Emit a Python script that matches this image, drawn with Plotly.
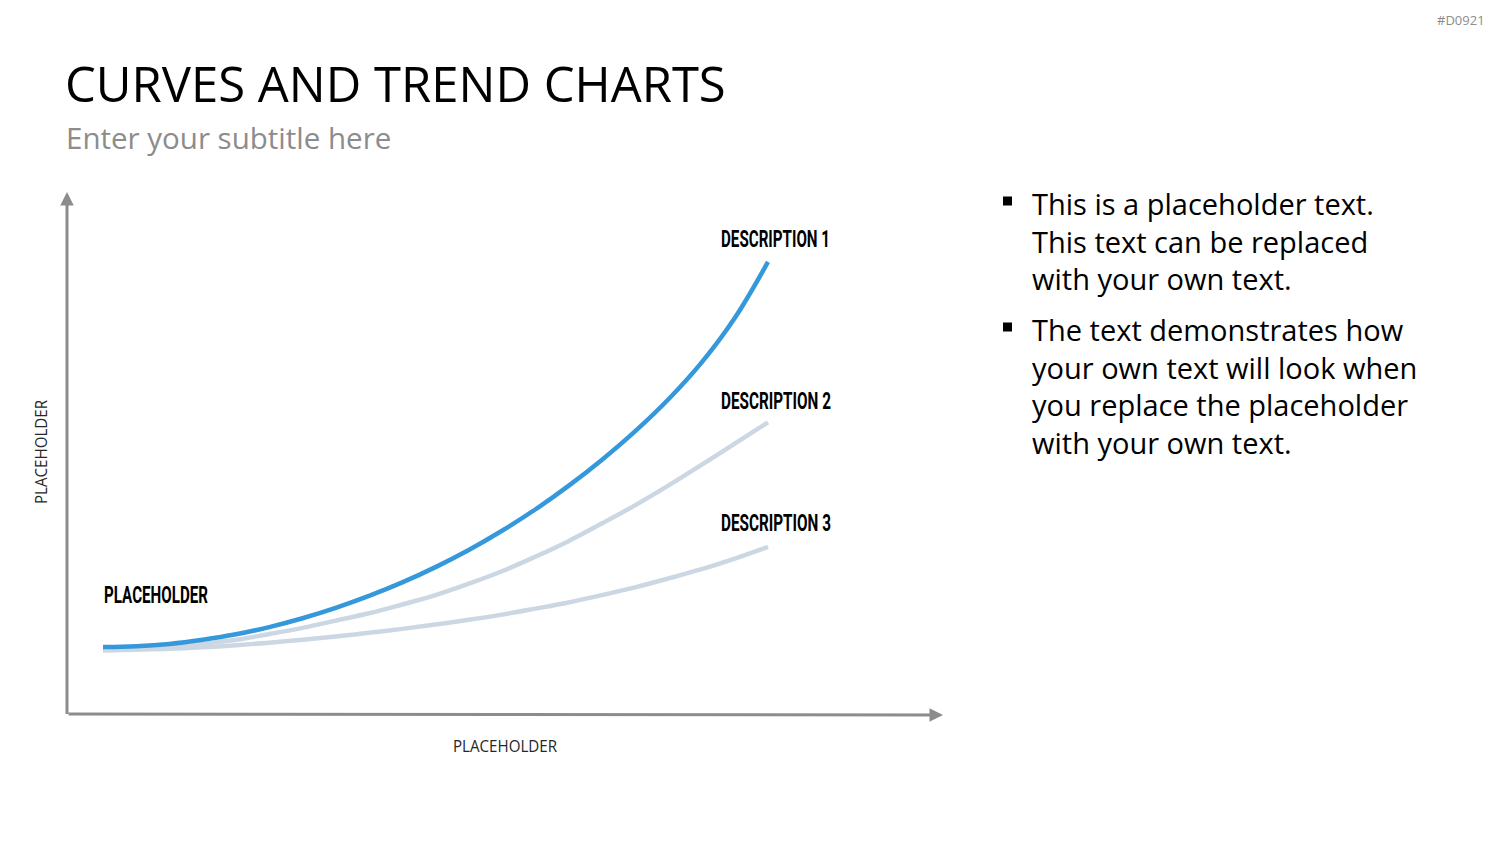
import json
import plotly.graph_objects as go

# ---- data ----
x_vals = [0, 0.5, 1, 1.5, 2, 2.5, 3, 3.5, 4, 4.5, 5, 5.5, 6, 6.5, 7, 7.5, 8, 8.5, 9, 9.5, 10]
desc1 = [1.29, 1.305, 1.35, 1.43, 1.535, 1.675, 1.845, 2.045, 2.275, 2.535, 2.83,
         3.16, 3.53, 3.94, 4.395, 4.895, 5.445, 6.06, 6.77, 7.63, 8.71]
desc2 = [1.23, 1.25, 1.28, 1.35, 1.43, 1.54, 1.66, 1.80, 1.94, 2.11, 2.29,
         2.51, 2.75, 3.03, 3.33, 3.67, 4.02, 4.40, 4.80, 5.21, 5.62]
desc3 = [1.23, 1.24, 1.255, 1.285, 1.325, 1.375, 1.43, 1.495, 1.565, 1.64, 1.725,
         1.815, 1.915, 2.03, 2.15, 2.29, 2.44, 2.61, 2.79, 2.995, 3.22]
series_names = ["DESCRIPTION 1", "DESCRIPTION 2", "DESCRIPTION 3"]
axis_title = "PLACEHOLDER"
start_label = "PLACEHOLDER"
title = "CURVES AND TREND CHARTS"
subtitle = "Enter your subtitle here"
bullets = [
    ["This is a placeholder text.", "This text can be replaced", "with your own text."],
    ["The text demonstrates how", "your own text will look when",
     "you replace the placeholder", "with your own text."],
]
slide_id = "#D0921"

# ---- styles ----
W, H = 1500, 844
BLUE = "#3498DB"
LIGHT = "#CCD7E4"
GREY_AX = "#8C8C8C"
TEXT_FONT = "Open Sans"
COND_FONT = "Roboto"
COND_WIDTHS = {"DESCRIPTION 1": 109, "DESCRIPTION 2": 110, "DESCRIPTION 3": 110, "PLACEHOLDER": 104}

# pixel-to-data scale: x=0 at px 103, 66.5 px/unit ; y=0 at px 714, 51.9 px/unit
XR = [(0 - 103) / 66.5, (W - 103) / 66.5]
YR = [(714 - H) / 51.9, 714 / 51.9]

fig = go.Figure()
for ys in (desc3, desc2):
    fig.add_trace(go.Scatter(x=x_vals, y=ys, mode="lines", line=dict(color=LIGHT, width=4.5, shape="spline"),
                             hoverinfo="skip", showlegend=False))
fig.add_trace(go.Scatter(x=x_vals, y=desc1, mode="lines", line=dict(color=BLUE, width=4.5, shape="spline"),
                         hoverinfo="skip", showlegend=False))


def px2x(px):
    return (px - 103) / 66.5


def py2y(py):
    return (714 - py) / 51.9


ann = []
ax0 = px2x(67)
ann.append(dict(x=px2x(943), y=py2y(715), ax=ax0, ay=py2y(714), xref="x", yref="y", axref="x", ayref="y",
                text="", showarrow=True, arrowhead=2, arrowsize=0.9, arrowwidth=3, arrowcolor=GREY_AX))
ann.append(dict(x=ax0, y=py2y(192), ax=ax0, ay=py2y(715.5), xref="x", yref="y", axref="x", ayref="y",
                text="", showarrow=True, arrowhead=2, arrowsize=0.9, arrowwidth=3, arrowcolor=GREY_AX))


def P(px, py, text, size, color="#000000", family=TEXT_FONT, xanchor="left", yanchor="middle", weight=None, **kw):
    f = dict(size=size, color=color, family=family)
    if weight:
        f["weight"] = weight
    ann.append(dict(x=px / W, y=1 - py / H, xref="paper", yref="paper", text=text, showarrow=False,
                    xanchor=xanchor, yanchor=yanchor, font=f, **kw))


P(63, 83, title, 49)
P(64, 137, subtitle, 29.5, color="#8C8C8C")
P(1487, 20, slide_id, 13, color="#8C8C8C", xanchor="right")

# axis titles
P(505, 746, axis_title, 16, color="#262626", xanchor="center")
ann.append(dict(x=41 / W, y=1 - 452 / H, xref="paper", yref="paper", text=axis_title, showarrow=False,
                textangle=-90, xanchor="center", yanchor="middle",
                font=dict(size=16, color="#262626", family=TEXT_FONT)))

# series labels at curve ends
label_y = [239, 401, 523]
for name, ly in zip(series_names, label_y):
    P(719, ly, name, 23, family=COND_FONT, weight="bold", align="left")
P(102, 595, start_label, 23, family=COND_FONT, weight="bold", align="left")

# bullets (one text block per paragraph)
para_centers = [241, 385.5]
para_bullet_y = [201, 327]
shapes = []
for lines, cy, by in zip(bullets, para_centers, para_bullet_y):
    shapes.append(dict(type="rect", xref="paper", yref="paper",
                       x0=1003 / W, x1=1012 / W, y0=1 - (by + 4.5) / H, y1=1 - (by - 4.5) / H,
                       fillcolor="#000000", line=dict(width=0)))
    P(1030, cy, "<br>".join(lines), 29, align="left")

fig.update_layout(
    width=W, height=H, autosize=False,
    margin=dict(l=0, r=0, t=0, b=0, pad=0),
    paper_bgcolor="white", plot_bgcolor="white",
    xaxis=dict(range=XR, visible=False, fixedrange=True),
    yaxis=dict(range=YR, visible=False, fixedrange=True),
    annotations=ann, shapes=shapes,
    showlegend=False,
)

post = """
var gd = document.getElementById('{plot_id}');
var widths = %s;
gd.querySelectorAll('text.annotation-text').forEach(function (t) {
  var w = widths[t.textContent];
  if (w) { t.setAttribute('textLength', w); t.setAttribute('lengthAdjust', 'spacingAndGlyphs'); }
});
""" % json.dumps(COND_WIDTHS)

fig.write_html("out.html", post_script=post)
